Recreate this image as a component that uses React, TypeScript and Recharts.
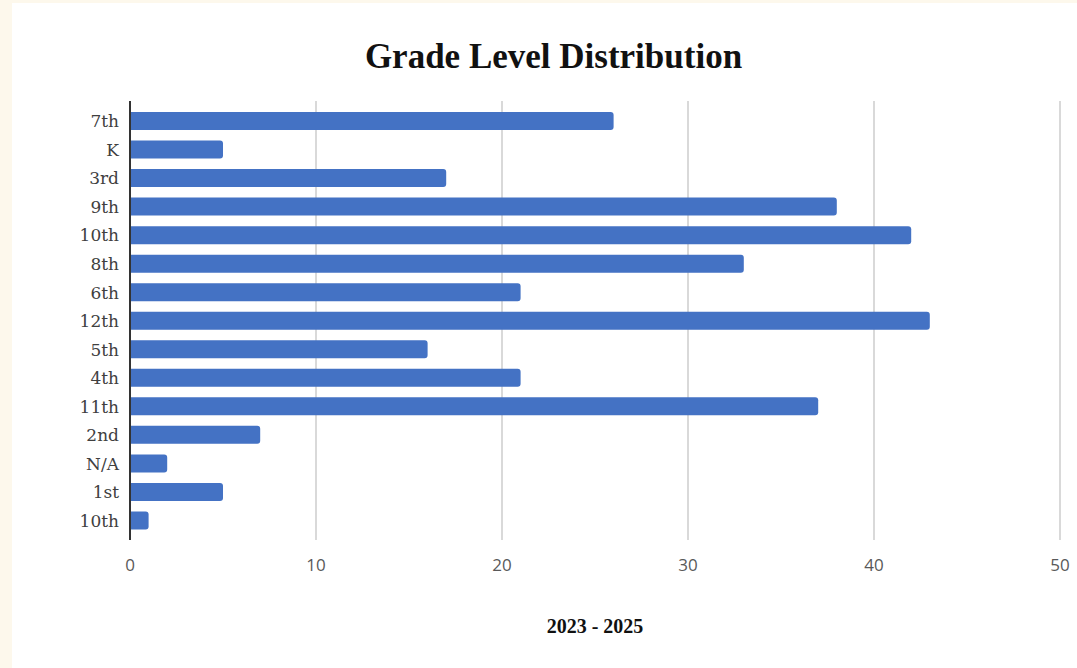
import { BarChart, Bar, XAxis, YAxis, CartesianGrid } from "recharts";

const grades = ["7th", "K", "3rd", "9th", "10th", "8th", "6th", "12th", "5th", "4th", "11th", "2nd", "N/A", "1st", "10th"];
const counts = [26, 5, 17, 38, 42, 33, 21, 43, 16, 21, 37, 7, 2, 5, 1];
const xTicks = [0, 10, 20, 30, 40, 50];

const data = grades.map((g, i) => ({ idx: i, grade: g, count: counts[i] }));

export default function App() {
  return (
    <div style={{ position: "absolute", left: 0, top: 0, width: 1077, height: 668, background: "#FDF8EC" }}>
      <div style={{ position: "absolute", left: 12, top: 3, width: 1065, height: 665, background: "#fff" }}>
        {/* title */}
        <div
          style={{
            position: "absolute", left: 0, top: 34, width: 1083, textAlign: "center",
            fontFamily: "'Liberation Serif', serif", fontWeight: 700, fontSize: 35, color: "#111", lineHeight: "40px",
          }}
        >
          Grade Level Distribution
        </div>
        <BarChart
          width={1065}
          height={665}
          layout="vertical"
          data={data}
          margin={{ top: 98, right: 17, left: 0, bottom: 98 }}
        >
          <CartesianGrid horizontal={false} stroke="#cccccc" strokeWidth={1.5} />
          <XAxis
            type="number"
            domain={[0, 50]}
            ticks={xTicks}
            axisLine={false}
            tickLine={false}
            tickMargin={13}
            height={30}
            tick={{ fontSize: 17, fill: "#595959", fontFamily: "'Open Sans', sans-serif" }}
          />
          <YAxis
            type="category"
            dataKey="idx"
            width={118}
            padding={{ top: 6, bottom: 5 }}
            tickFormatter={(v: number) => grades[v]}
            interval={0}
            tickLine={false}
            tickMargin={5}
            axisLine={{ stroke: "#333", strokeWidth: 2 }}
            tick={{ fontSize: 17, fill: "#404040", fontFamily: "'DejaVu Serif', serif", fontWeight: 300 }}
          />
          <Bar dataKey="count" fill="#4472C4" barSize={18} radius={[0, 3, 3, 0]} isAnimationActive={false} />
        </BarChart>
        {/* x-axis title */}
        <div
          style={{
            position: "absolute", left: 483, top: 611, width: 200, textAlign: "center",
            fontFamily: "'Liberation Serif', serif", fontWeight: 700, fontSize: 20, color: "#111", lineHeight: "24px",
          }}
        >
          2023 - 2025
        </div>
      </div>
    </div>
  );
}
